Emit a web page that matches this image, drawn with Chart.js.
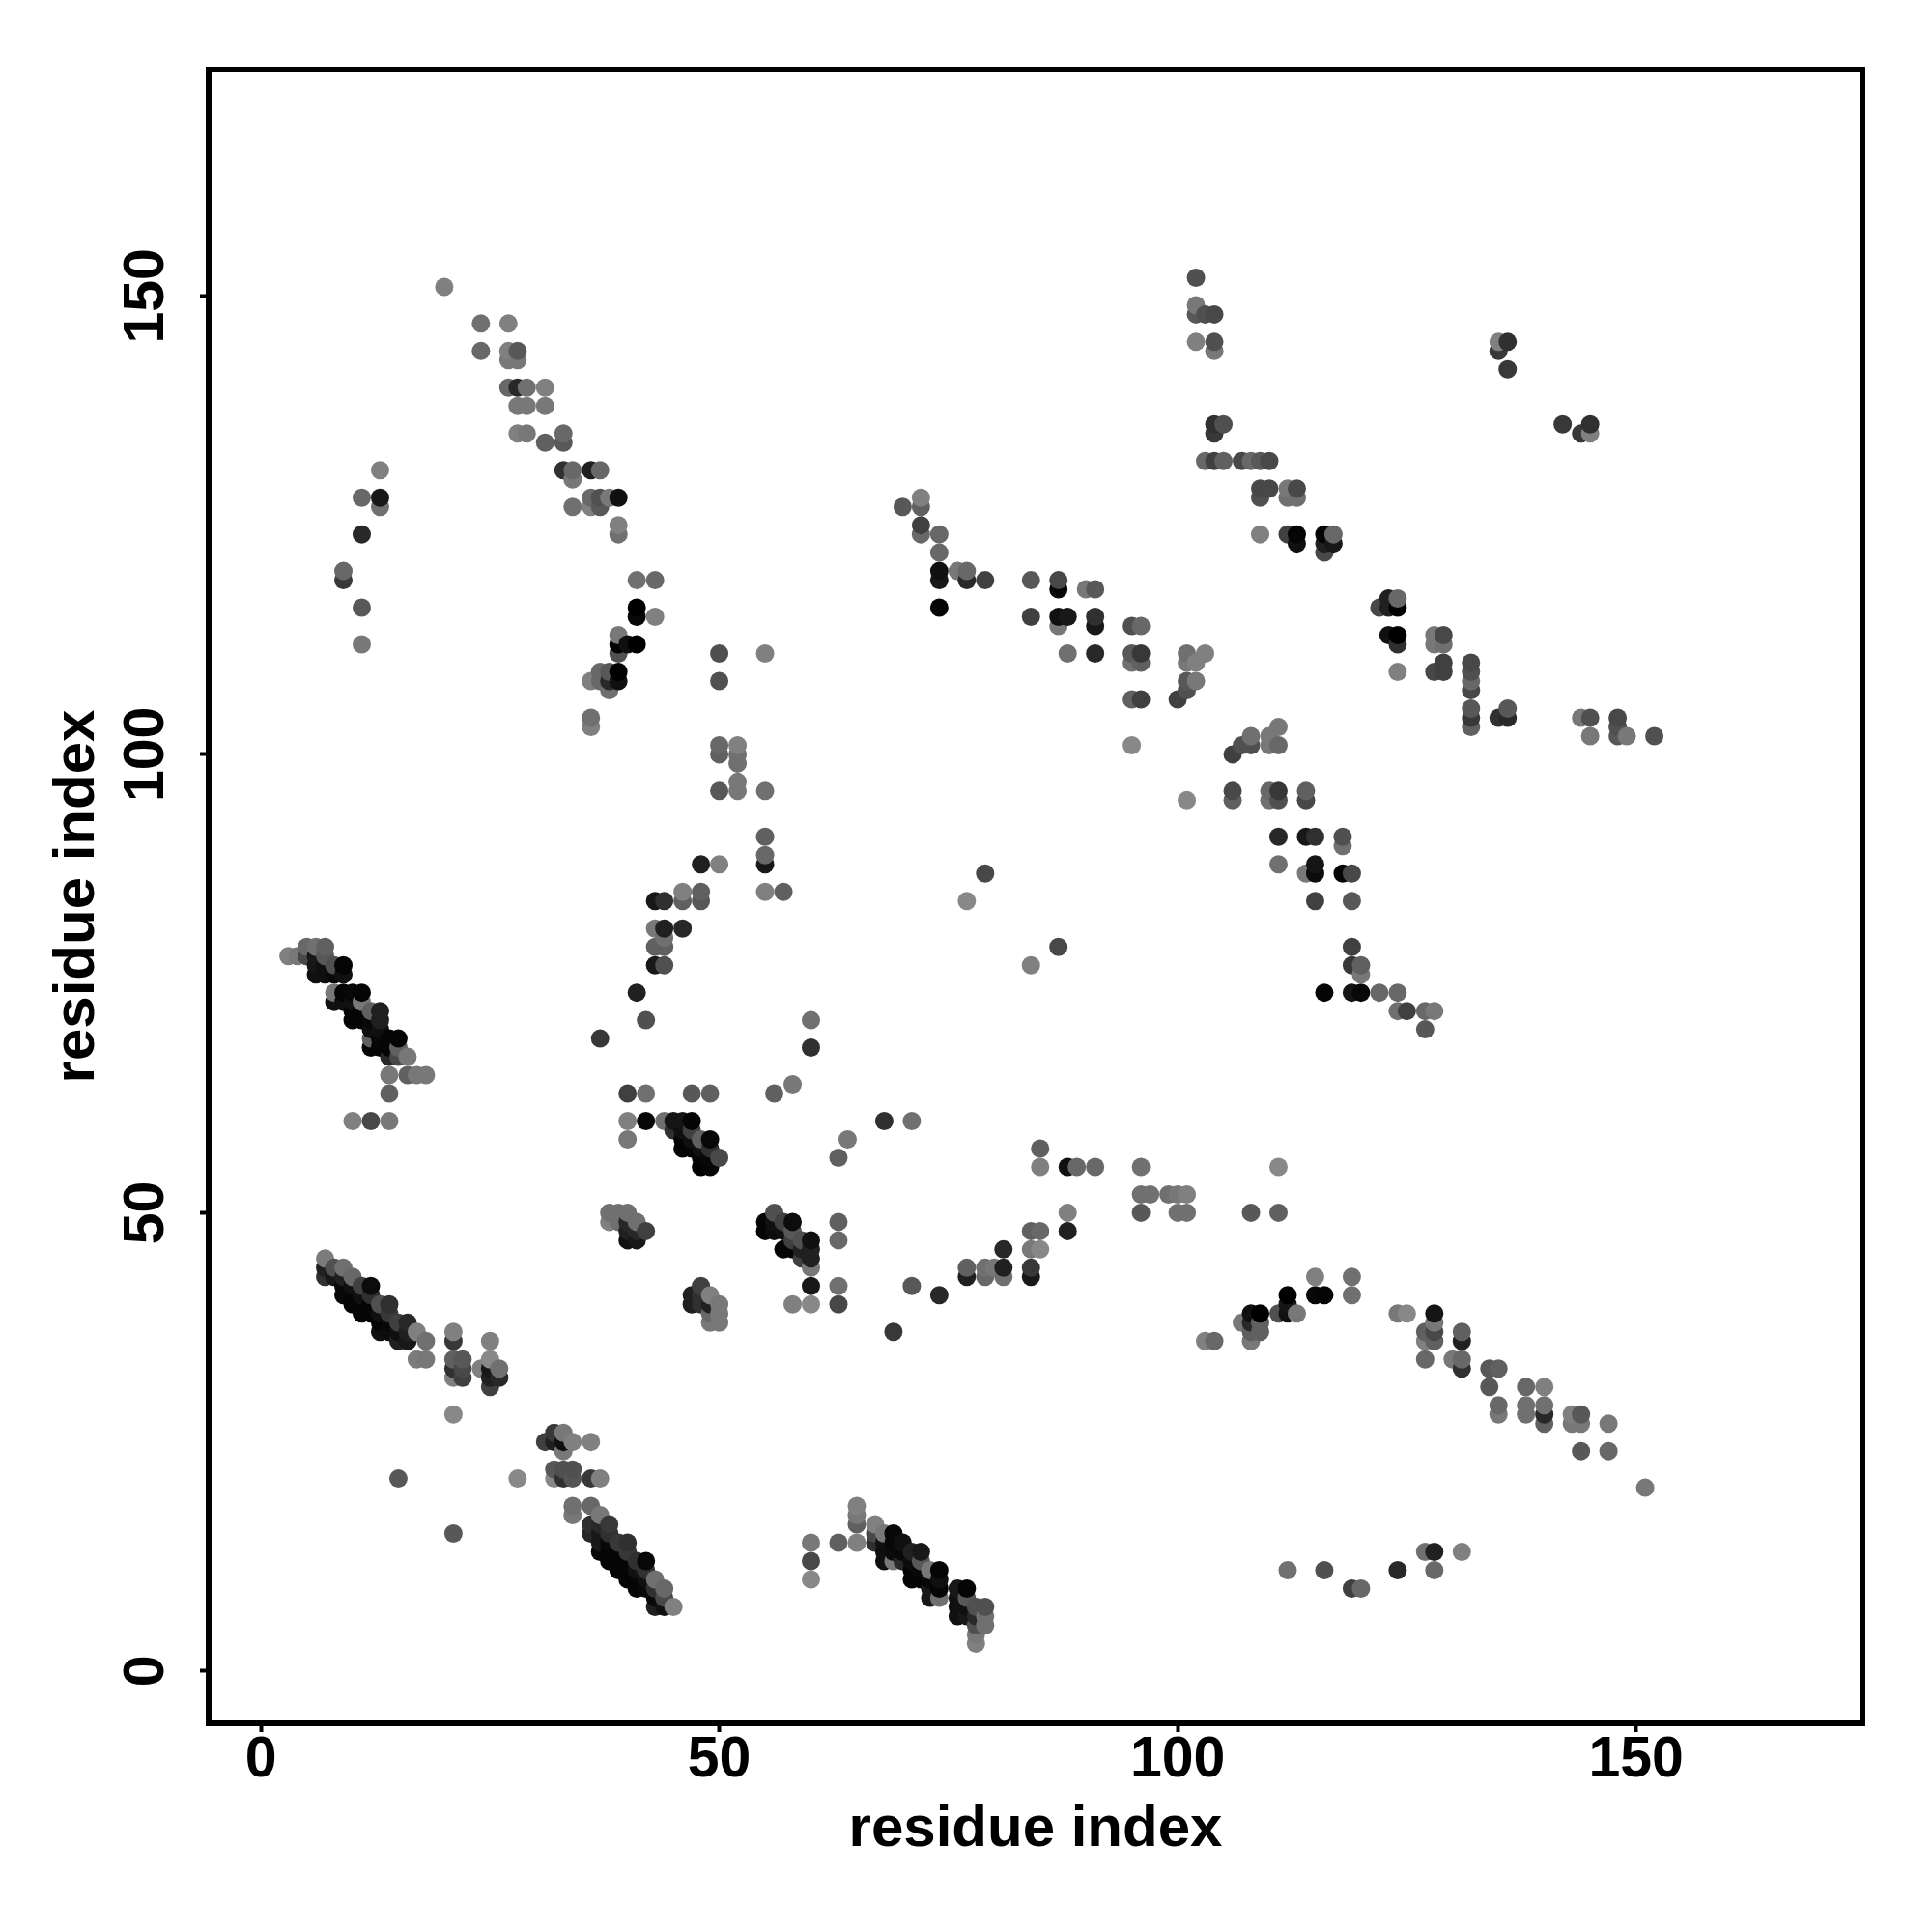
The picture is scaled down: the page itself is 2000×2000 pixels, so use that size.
<!DOCTYPE html>
<html>
<head>
<meta charset="utf-8">
<title>residue contacts</title>
<script src="https://cdn.jsdelivr.net/npm/chart.js@4/dist/chart.umd.min.js"></script>
<style>
  html, body { margin: 0; padding: 0; background: #fff; }
  #wrap { width: 2000px; height: 2000px; }
</style>
</head>
<body>
<div id="wrap"><canvas id="chart" width="2000" height="2000"></canvas></div>
<script>
// tick labels and axis titles
const tickValues = [0, 50, 100, 150];
const axisTitle = 'residue index';

// contacts as [residue x, residue y, grey level]
const strandLowLeft = [
  [7,45,0x7c],[7,44,0x20],[7,43,0x30],[8,44,0x50],[8,43,0x18],[9,44,0x70],[9,43,0x20],[9,42,0x08],[9,41,0x08],
  [10,43,0x68],[10,42,0x10],[10,41,0x05],[10,40,0x05],[11,42,0x40],[11,41,0x10],[11,40,0x05],[11,39,0x05],
  [12,42,0x0c],[12,41,0x30],[12,40,0x05],[12,39,0x05],[13,40,0x50],[13,39,0x10],[13,38,0x05],[13,37,0x10],
  [14,40,0x30],[14,39,0x38],[14,38,0x08],[14,37,0x0c],[15,38,0x40],[15,37,0x10],[15,36,0x20],
  [16,38,0x28],[16,37,0x20],[16,36,0x18],[17,37,0x80],[18,36,0x70],[17,34,0x7c],[18,34,0x78]
];
const lowLeftScatter = [
  [21,37,0x80],[21,36,0x38],[21,34,0x60],[22,34,0x58],[21,33,0x30],[22,33,0x48],[21,32,0x80],[22,32,0x40],
  [21,28,0x88],[21,15,0x58],[25,36,0x80],[25,34,0x88],[24,33,0x80],[25,33,0x18],[26,33,0x70],[25,32,0x20],
  [26,32,0x28],[25,31,0x40],[15,21,0x58],[28,21,0x88]
];
const clusterNear33 = [
  [31,25,0x40],[32,26,0x38],[32,25,0x20],[33,26,0x78],[33,25,0x10],[34,25,0x80],[33,24,0x78],[36,25,0x80],
  [32,22,0x58],[33,22,0x50],[34,22,0x50],[32,21,0x88],[33,21,0x30],[34,21,0x55],[36,21,0x38],[37,21,0x80],
  [34,18,0x70],[34,17,0x78]
];
const strandMidLow = [
  [36,18,0x68],[36,16,0x30],[36,15,0x28],[37,17,0x78],[37,16,0x28],[37,15,0x18],[37,14,0x18],[37,13,0x08],
  [38,16,0x38],[38,15,0x30],[38,14,0x08],[38,13,0x05],[38,12,0x05],[39,14,0x38],[39,13,0x05],[39,12,0x05],[39,11,0x05],
  [40,14,0x30],[40,13,0x38],[40,12,0x05],[40,11,0x05],[40,10,0x05],[41,12,0x30],[41,11,0x10],[41,10,0x05],[41,9,0x05],
  [42,12,0x08],[42,11,0x30],[42,10,0x10],[42,9,0x08],[43,10,0x70],[43,9,0x30],[43,8,0x08],[43,7,0x20],
  [44,9,0x68],[44,8,0x48],[44,7,0x10],[45,7,0x80]
];
const clusterNear40 = [
  [38,50,0x70],[39,50,0x70],[40,50,0x70],[38,49,0x80],[39,49,0x70],[40,49,0x28],[41,49,0x70],[40,48,0x20],
  [41,48,0x28],[42,48,0x40],[40,47,0x10],[41,47,0x18],[47,41,0x20],[48,42,0x40],[48,41,0x30],[49,41,0x80],
  [47,40,0x20],[48,40,0x30],[49,40,0x20],[50,40,0x78],[49,39,0x68],[50,39,0x78],[49,38,0x78],[50,38,0x78]
];
const clusterNear57 = [
  [55,49,0x05],[55,48,0x05],[56,50,0x50],[56,49,0x10],[56,48,0x0c],[57,49,0x40],[57,48,0x10],[57,46,0x05],[58,49,0x0c],
  [58,48,0x58],[58,47,0x40],[58,46,0x05],[59,47,0x50],[59,46,0x20],[59,45,0x40],[60,47,0x10],[60,46,0x20],[60,45,0x20],
  [60,44,0x78],[60,42,0x18],[60,40,0x88],[58,40,0x80],[63,49,0x60],[63,47,0x68],[63,42,0x70],[63,40,0x48],
  [71,42,0x58],[74,41,0x28],[69,37,0x38]
];
const ridgeNear44 = [
  [77,44,0x60],[77,43,0x20],[79,44,0x70],[79,43,0x68],[80,44,0x78],[81,46,0x28],[81,44,0x20],[81,43,0x70],
  [84,48,0x60],[85,48,0x68],[84,46,0x78],[85,46,0x88],[84,44,0x38],[84,43,0x18],[88,48,0x20],[88,50,0x80],
  [96,50,0x58],[100,50,0x70],[101,50,0x70],[103,36,0x80],[104,36,0x68]
];
const strandLowMid = [
  [65,18,0x80],[65,17,0x78],[65,16,0x60],[65,14,0x80],[63,14,0x60],[60,14,0x78],[60,12,0x48],[60,10,0x88],
  [67,16,0x80],[67,15,0x48],[67,14,0x30],[68,15,0x78],[68,14,0x10],[68,13,0x10],[68,12,0x10],[69,15,0x08],[69,14,0x08],
  [69,13,0x0c],[69,12,0x78],[70,14,0x10],[70,13,0x08],[70,12,0x28],[71,13,0x20],[71,12,0x0c],[71,11,0x05],[71,10,0x05],
  [72,13,0x18],[72,12,0x58],[72,11,0x08],[72,10,0x05],[73,11,0x78],[73,10,0x08],[73,9,0x18],[73,8,0x18],
  [74,11,0x05],[74,10,0x10],[74,9,0x05],[74,8,0x70],[76,9,0x18],[76,8,0x10],[76,7,0x10],[76,6,0x10],
  [77,9,0x05],[77,8,0x58],[77,7,0x10],[77,6,0x18],[78,7,0x50],[78,6,0x28],[78,5,0x50],[78,4,0x78],[78,3,0x80],
  [79,7,0x50],[79,6,0x70],[79,5,0x70]
];
const arcLowRight = [
  [108,50,0x58],[111,50,0x60],[115,43,0x80],[119,43,0x70],[119,41,0x70],[112,41,0x00],[115,41,0x08],[116,41,0x05],
  [108,39,0x10],[109,39,0x00],[111,39,0x50],[112,39,0x10],[113,39,0x78],[112,40,0x15],[107,38,0x78],[108,38,0x28],
  [109,38,0x60],[108,37,0x60],[109,37,0x60],[108,36,0x78],[124,39,0x78],[125,39,0x88],[128,39,0x15],[128,38,0x78],
  [127,37,0x60],[128,37,0x48],[127,36,0x80],[128,36,0x60],[127,34,0x68],[131,37,0x60],[131,36,0x20],[130,34,0x78],
  [131,34,0x68],[131,33,0x30],[134,33,0x58],[135,33,0x60],[134,31,0x58],[138,31,0x68],[140,31,0x80],[135,29,0x68],
  [135,28,0x78],[138,29,0x70],[138,28,0x70],[140,29,0x70],[140,28,0x28],[140,27,0x60],[143,28,0x80],[144,28,0x58],
  [143,27,0x78],[144,27,0x78],[147,27,0x78],[144,24,0x58],[147,24,0x68],[151,20,0x78]
];
const bottomRight = [
  [127,13,0x70],[128,13,0x20],[131,13,0x80],[112,11,0x70],[116,11,0x50],[124,11,0x28],[128,11,0x68],[119,9,0x40],[120,9,0x68]
];
const strandUpLeft = [
  [3,78,0x80],[4,78,0x78],[5,79,0x68],[6,79,0x70],[7,79,0x60],[5,78,0x48],[6,78,0x18],[7,78,0x58],[6,77,0x15],[6,76,0x10],
  [7,77,0x10],[7,76,0x10],[8,77,0x50],[8,76,0x08],[9,77,0x05],[9,76,0x10],[8,74,0x78],[8,73,0x10],[9,74,0x05],[10,74,0x08],
  [11,74,0x05],[9,73,0x10],[10,73,0x10],[11,73,0x78],[10,72,0x05],[10,71,0x05],[11,72,0x05],[11,71,0x05],[12,72,0x60],
  [13,72,0x20],[13,71,0x20],[12,71,0x08],[12,70,0x10],[13,70,0x10],[12,69,0x60],[13,69,0x08],[14,69,0x05],[15,69,0x05],
  [12,68,0x05],[13,68,0x05],[14,68,0x05],[14,67,0x28],[15,68,0x60],[15,67,0x48],[16,67,0x78],[14,65,0x78],[16,65,0x60],
  [17,65,0x78],[18,65,0x78],[14,63,0x60],[10,60,0x80],[12,60,0x48],[14,60,0x78]
];
const arcNear45 = [
  [36,104,0x70],[36,103,0x80],[50,101,0x68],[50,100,0x60],[52,101,0x80],[52,100,0x70],[52,99,0x70],[52,97,0x78],[52,96,0x78],
  [50,96,0x58],[48,88,0x20],[50,88,0x80],[46,85,0x80],[48,85,0x60],[46,84,0x60],[48,84,0x58],[43,84,0x18],[44,84,0x30],
  [43,81,0x78],[44,81,0x20],[46,81,0x28],[44,80,0x70],[43,79,0x60],[44,79,0x60],[43,77,0x18],[44,77,0x50],[41,74,0x20],
  [42,71,0x50],[37,69,0x38]
];
const strandNear47 = [
  [40,63,0x40],[42,63,0x70],[47,63,0x58],[49,63,0x60],[40,60,0x80],[42,60,0x08],[44,60,0x70],[45,60,0x15],[46,60,0x15],
  [47,60,0x05],[40,58,0x78],[45,59,0x30],[46,59,0x10],[47,59,0x40],[49,58,0x08],[48,58,0x60],[46,58,0x05],[47,58,0x10],
  [46,57,0x05],[47,57,0x05],[48,57,0x10],[49,57,0x30],[50,56,0x48],[48,56,0x05],[49,56,0x08],[48,55,0x00],[49,55,0x05]
];
const midScatter = [
  [55,96,0x70],[55,91,0x60],[55,89,0x68],[55,88,0x18],[55,85,0x80],[57,85,0x60],[95,101,0x88],[101,95,0x88],[79,87,0x48],
  [77,84,0x88],[87,79,0x48],[84,77,0x80],[60,71,0x70],[60,68,0x30],[58,64,0x78],[56,63,0x60],[68,60,0x30],[71,60,0x70],
  [64,58,0x78],[63,56,0x60],[85,57,0x60],[85,55,0x80],[88,55,0x10],[89,55,0x68],[91,55,0x68],[96,55,0x70],[96,52,0x70],
  [97,52,0x70],[99,52,0x70],[100,52,0x78],[101,52,0x80],[111,55,0x88]
];
const descentNear115 = [
  [106,100,0x40],[107,101,0x50],[108,101,0x50],[108,102,0x70],[110,101,0x78],[111,101,0x68],[110,102,0x78],[111,103,0x78],
  [106,96,0x48],[106,95,0x60],[110,96,0x68],[110,95,0x70],[111,96,0x38],[111,95,0x50],[114,96,0x60],[114,95,0x48],
  [111,91,0x28],[114,91,0x18],[115,91,0x30],[118,91,0x50],[118,90,0x70],[111,88,0x70],[114,87,0x78],[115,88,0x15],
  [115,87,0x0c],[118,87,0x05],[119,87,0x48],[115,84,0x40],[119,84,0x58],[119,79,0x40],[119,77,0x38],[120,77,0x60],
  [120,76,0x78],[116,74,0x05],[119,74,0x15],[120,74,0x08],[122,74,0x68],[124,74,0x68],[124,72,0x70],[125,72,0x40],
  [127,72,0x68],[128,72,0x78],[127,70,0x58]
];
const upLeftBand = [
  [20,151,0x80],[24,147,0x70],[27,147,0x80],[24,144,0x68],[27,144,0x80],[27,143,0x78],[28,144,0x58],[28,143,0x78],
  [27,140,0x68],[28,140,0x28],[29,140,0x70],[31,140,0x80],[28,138,0x78],[29,138,0x78],[31,138,0x78],[28,135,0x80],
  [29,135,0x78],[31,134,0x60],[33,135,0x68],[33,134,0x58],[33,131,0x30],[34,131,0x68],[34,130,0x78],[36,131,0x20],
  [37,131,0x68],[34,127,0x70],[36,128,0x68],[36,127,0x80],[37,128,0x50],[37,127,0x58],[38,128,0x78],[39,128,0x10],
  [39,125,0x80],[39,124,0x70],[41,119,0x70],[43,119,0x68],[41,116,0x00],[41,115,0x08],[43,115,0x80],[39,113,0x78],
  [39,112,0x00],[40,112,0x10],[41,112,0x00],[39,111,0x50],[50,111,0x50],[50,108,0x50],[36,108,0x80],[37,109,0x68],
  [37,108,0x68],[38,109,0x58],[38,108,0x28],[38,107,0x70],[39,109,0x00],[39,108,0x10]
];
const upLeftArc = [
  [13,131,0x80],[11,128,0x68],[13,128,0x18],[13,127,0x70],[11,124,0x28],[9,120,0x68],[9,119,0x38],[11,116,0x58],[11,112,0x78]
];
const upMidBand = [
  [55,111,0x80],[70,127,0x58],[72,128,0x80],[72,127,0x60],[72,125,0x40],[72,124,0x68],[74,124,0x68],[74,122,0x68],
  [74,120,0x10],[74,119,0x18],[74,116,0x05],[76,120,0x78],[77,120,0x68],[77,119,0x28],[79,119,0x40],[84,119,0x58],
  [84,115,0x40],[87,119,0x48],[87,118,0x05],[90,118,0x78],[91,118,0x58],[87,115,0x10],[88,115,0x18],[87,114,0x78],
  [91,115,0x30],[91,114,0x18],[88,111,0x70],[91,111,0x28],[95,114,0x50],[96,114,0x68],[95,111,0x58],[96,111,0x38],
  [95,110,0x70],[96,110,0x60],[95,106,0x60],[96,106,0x40],[101,111,0x70],[103,111,0x80],[101,110,0x78],[102,110,0x80],
  [101,108,0x58],[102,108,0x78],[101,107,0x50],[100,106,0x40]
];
const upRightBand = [
  [102,152,0x50],[102,149,0x78],[102,148,0x58],[103,148,0x50],[104,148,0x48],[102,145,0x80],[104,145,0x50],[104,144,0x78],
  [104,136,0x30],[104,135,0x38],[105,136,0x50],[103,132,0x68],[104,132,0x40],[105,132,0x60],[107,132,0x48],[108,132,0x68],
  [109,132,0x58],[110,132,0x48],[109,129,0x48],[110,129,0x48],[109,128,0x50],[112,129,0x78],[113,129,0x48],[112,128,0x70],
  [113,128,0x70],[109,124,0x80],[112,124,0x40],[113,124,0x05],[113,123,0x10],[116,124,0x05],[117,124,0x68],[116,123,0x20],
  [117,123,0x18],[116,122,0x48],[135,145,0x80],[136,145,0x30],[135,144,0x38],[136,142,0x38],[142,136,0x38],[144,135,0x38],
  [145,136,0x30],[145,135,0x80],[122,116,0x48],[123,117,0x20],[123,116,0x20],[124,117,0x68],[124,116,0x00],[123,113,0x10],
  [124,113,0x00],[124,112,0x30],[124,109,0x80],[128,113,0x78],[129,113,0x48],[128,112,0x78],[129,112,0x70],[128,109,0x48],
  [129,110,0x40],[129,109,0x40],[132,110,0x48],[132,109,0x50],[132,108,0x68],[132,107,0x48],[132,105,0x58],[132,104,0x38],
  [132,103,0x60],[135,104,0x30],[136,105,0x58],[136,104,0x28],[144,104,0x78],[145,104,0x50],[145,102,0x78],[148,104,0x48],
  [148,103,0x50],[148,102,0x58],[149,102,0x78],[152,102,0x50]
];

const contacts = [
  ...strandLowLeft, ...lowLeftScatter, ...clusterNear33, ...strandMidLow, ...clusterNear40, ...clusterNear57,
  ...ridgeNear44, ...strandLowMid, ...arcLowRight, ...bottomRight, ...strandUpLeft, ...arcNear45, ...strandNear47,
  ...midScatter, ...descentNear115, ...upLeftBand, ...upLeftArc, ...upMidBand, ...upRightBand
].sort((a, b) => a[0] - b[0] || a[1] - b[1]); // later points sit on top, same as the original

const FONT = 'Liberation Sans';

// draws the closed box round the plot
const boxPlugin = {
  id: 'box',
  afterDraw(chart) {
    const { ctx, chartArea: a } = chart;
    ctx.save();
    ctx.strokeStyle = '#000';
    ctx.lineWidth = 6;
    ctx.strokeRect(a.left, a.top, a.right - a.left, a.bottom - a.top);
    ctx.restore();
  }
};

function axisOptions(size, titlePad, tickPad, extraTicks) {
  return {
    type: 'linear',
    min: -5.7,
    max: 174.7,
    afterBuildTicks(scale) { scale.ticks = tickValues.map(v => ({ value: v })); },
    afterFit(scale) {
      if (scale.isHorizontal()) scale.height = size; else scale.width = size;
    },
    grid: { drawOnChartArea: false, drawTicks: true, tickLength: 9, tickWidth: 4, tickColor: '#000' },
    border: { display: false },
    ticks: Object.assign({
      color: '#000',
      padding: tickPad,
      autoSkip: false,
      font: { family: FONT, weight: 'bold', size: 59 }
    }, extraTicks),
    title: {
      display: true,
      text: axisTitle,
      color: '#000',
      padding: titlePad,
      font: { family: FONT, weight: 'bold', size: 60 }
    }
  };
}

new Chart(document.getElementById('chart').getContext('2d'), {
  type: 'scatter',
  data: {
    datasets: [{
      data: contacts.map(c => ({ x: c[0], y: c[1] })),
      pointRadius: 9.5,
      pointHoverRadius: 9.5,
      pointBorderWidth: 0,
      pointBackgroundColor: contacts.map(c => `rgb(${c[2]},${c[2]},${c[2]})`)
    }]
  },
  options: {
    responsive: false,
    animation: false,
    layout: { padding: { top: 72, right: 72, left: 0, bottom: 0 } },
    plugins: { legend: { display: false }, tooltip: { enabled: false } },
    scales: {
      x: axisOptions(216, { top: 0, bottom: 70 }, -6, { maxRotation: 0, minRotation: 0 }),
      y: axisOptions(216, { top: 44, bottom: 0 }, 5, { minRotation: 90, maxRotation: 90, crossAlign: 'center' })
    }
  },
  plugins: [boxPlugin]
});
</script>
</body>
</html>
